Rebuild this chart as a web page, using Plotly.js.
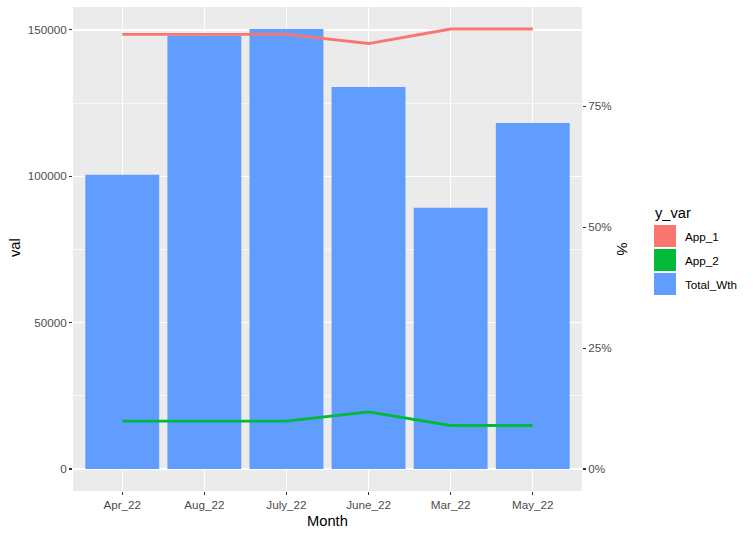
<!DOCTYPE html>
<html>
<head>
<meta charset="utf-8">
<script src="https://cdn.plot.ly/plotly-3.0.1.min.js"></script>
<style>html,body{margin:0;padding:0;background:#fff;}#chart{width:754px;height:536px;}</style>
</head>
<body>
<div id="chart"></div>
<script>
// ---- data ----
const months   = ['Apr_22', 'Aug_22', 'July_22', 'June_22', 'Mar_22', 'May_22'];
const totalWth = [100500, 148000, 150300, 130500, 89200, 118200];
const app1Pct  = [0.899, 0.899, 0.899, 0.880, 0.910, 0.910];
const app2Pct  = [0.099, 0.099, 0.099, 0.118, 0.090, 0.090];
const seriesNames = ['App_1', 'App_2', 'Total_Wth'];
const pctTicks = [0, 0.25, 0.5, 0.75];
const pctLabels = ['0%', '25%', '50%', '75%'];
const valTicks = [0, 50000, 100000, 150000];
const valLabels = ['0', '50000', '100000', '150000'];

// ---- styling ----
const colors = ['#F8766D', '#00BA38', '#619CFF'];
const FONT = 'Arial, "Liberation Sans", sans-serif';
const L = 73, R = 582, T = 7, B = 491, W = 754, H = 536;
const px = x => (x - L) / (R - L);
const py = y => (B - y) / (B - T);

const maxV = Math.max(...totalWth);
const scale = maxV / Math.max(...app1Pct);
const yRange = [-0.05 * maxV, 1.05 * maxV];
const y2Range = [yRange[0] / scale, yRange[1] / scale];

const traces = [
  {type: 'bar', x: months, y: totalWth, marker: {color: colors[2]}, width: 0.9,
   showlegend: false, hoverinfo: 'x+y'},
  {type: 'scatter', mode: 'lines', x: months, y: app1Pct, yaxis: 'y2',
   line: {color: colors[0], width: 2.8}, showlegend: false},
  {type: 'scatter', mode: 'lines', x: months, y: app2Pct, yaxis: 'y2',
   line: {color: colors[1], width: 2.8}, showlegend: false}
];

const shapes = [];
const annotations = [
  {text: 'val', xref: 'paper', yref: 'paper', x: px(15), y: py(248), textangle: -90,
   showarrow: false, font: {family: FONT, size: 14.7, color: '#000'}, xanchor: 'center', yanchor: 'middle'},
  {text: 'Month', xref: 'paper', yref: 'paper', x: px(327.5), y: py(521),
   showarrow: false, font: {family: FONT, size: 14.7, color: '#000'}, xanchor: 'center', yanchor: 'middle'},
  {text: '%', xref: 'paper', yref: 'paper', x: px(622), y: py(248.5), textangle: 90,
   showarrow: false, font: {family: FONT, size: 14.7, color: '#000'}, xanchor: 'center', yanchor: 'middle'},
  {text: 'y_var', xref: 'paper', yref: 'paper', x: px(653), y: py(213),
   showarrow: false, font: {family: FONT, size: 14.7, color: '#000'}, xanchor: 'left', yanchor: 'middle'}
];
const keyTops = [225, 249, 273];
seriesNames.forEach((n, i) => {
  const t = keyTops[i];
  shapes.push({type: 'rect', xref: 'paper', yref: 'paper', x0: px(654), x1: px(676),
    y0: py(t + 22), y1: py(t), fillcolor: colors[i], line: {width: 0}, layer: 'above'});
  annotations.push({text: n, xref: 'paper', yref: 'paper', x: px(683), y: py(t + 11.5),
    showarrow: false, font: {family: FONT, size: 11.7, color: '#000'}, xanchor: 'left', yanchor: 'middle'});
});

const layout = {
  width: W, height: H,
  margin: {l: L, r: W - R, t: T, b: H - B, pad: 0},
  paper_bgcolor: '#FFFFFF', plot_bgcolor: '#EBEBEB',
  showlegend: false,
  bargap: 0.1,
  font: {family: FONT},
  xaxis: {
    type: 'category', range: [-0.6, 5.6], categoryorder: 'array', categoryarray: months,
    showgrid: true, gridcolor: '#FFFFFF', gridwidth: 1.4, zeroline: false, showline: false,
    ticks: 'outside', ticklen: 3, tickwidth: 1.1, tickcolor: '#333333',
    tickfont: {family: FONT, size: 11.7, color: '#4D4D4D'}, fixedrange: true
  },
  yaxis: {
    range: yRange, tickvals: valTicks, ticktext: valLabels,
    showgrid: true, gridcolor: '#FFFFFF', gridwidth: 1.4, zeroline: false, showline: false,
    minor: {tick0: 25000, dtick: 50000, showgrid: true, gridcolor: '#FFFFFF', gridwidth: 0.7, ticks: ''},
    ticks: 'outside', ticklen: 3, tickwidth: 1.1, tickcolor: '#333333',
    tickfont: {family: FONT, size: 11.7, color: '#4D4D4D'}, fixedrange: true
  },
  yaxis2: {
    overlaying: 'y', side: 'right', range: y2Range,
    tickvals: pctTicks, ticktext: pctLabels,
    showgrid: false, zeroline: false, showline: false,
    ticks: 'outside', ticklen: 3, tickwidth: 1.1, tickcolor: '#333333',
    tickfont: {family: FONT, size: 11.7, color: '#4D4D4D'}, fixedrange: true
  },
  shapes: shapes,
  annotations: annotations
};

Plotly.newPlot('chart', traces, layout, {displayModeBar: false, staticPlot: true});
</script>
</body>
</html>
